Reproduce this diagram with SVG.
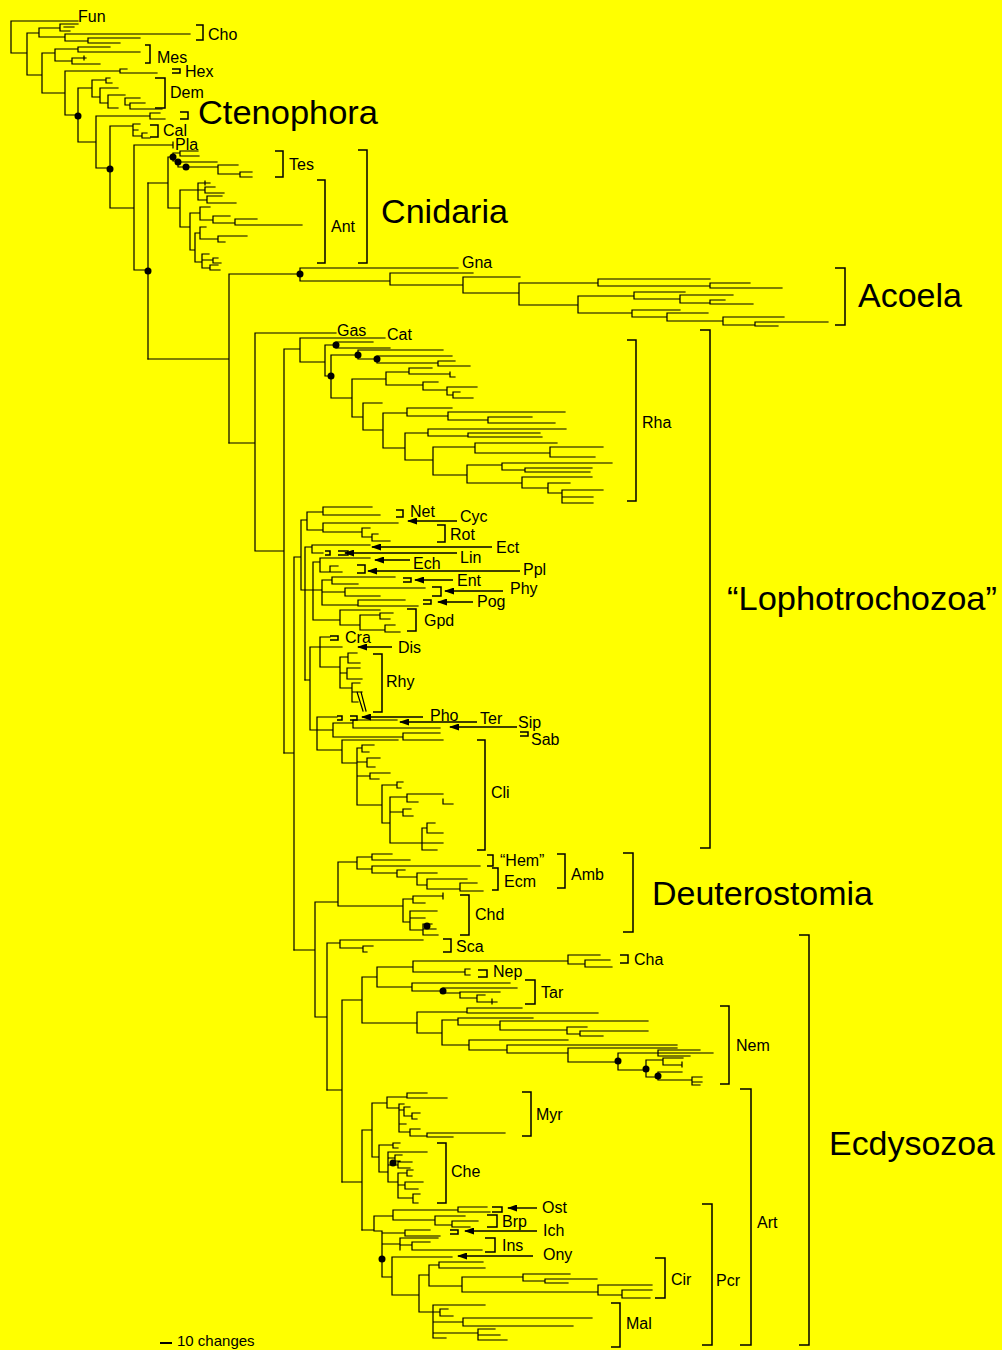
<svg xmlns="http://www.w3.org/2000/svg" width="1002" height="1350" viewBox="0 0 1002 1350">
<defs>
<style>
.t{fill:none;stroke:#000;stroke-width:1.2;stroke-linecap:square}
.b{fill:none;stroke:#000;stroke-width:1.5}
.a{fill:none;stroke:#000;stroke-width:1.4;marker-end:url(#ah)}
.d{fill:#000}
text{font-family:"Liberation Sans",Arial,Helvetica,sans-serif;fill:#000}
.s{font-size:16px}
.L{font-size:33px}
</style>
<marker id="ah" markerUnits="userSpaceOnUse" markerWidth="10" markerHeight="7" refX="9" refY="3.5" orient="auto"><path d="M0,0 L10,3.5 L0,7 Z" fill="#000"/></marker>
</defs>
<rect width="1002" height="1350" fill="#FFFF00"/>

<g id="connectors">
<path class="t" d="M11,21 H78 M11,21 V53 H27 M27,33 V75 M27,33 H39 M39,28 V37 M39,28 H60 M60,24 V31 M60,24 H78 M60,31 H70 M64,27 H74 M39,37 H65 M65,34 V41 M65,34 H190 M65,41 H88 M88,38 V43 M88,38 H140 M88,43 H120 M27,75 H42 M42,53 V93 M42,53 H55 M55,49 V61 M55,49 H78 M78,47 V52 M78,47 H110 M78,52 H140 M55,61 H72 M72,58 V64 M72,58 H86 M84,56 V60 M72,64 H100 M42,93 H65 M65,71 V115 M65,71 H120 M120,69 V73 M120,69 H127 M120,73 H157 M65,115 H78 M78,88 V142 M78,88 H92 M92,80 V97 M92,80 H106 M106,78 V83 M106,78 H110 M106,83 H112 M92,97 H100 M100,88 V103 M100,88 H118 M100,103 H108 M108,95 V108 M108,95 H125 M108,108 H118 M125,98 V105 M125,98 H140 M125,105 H130 M130,103 V109 M130,103 H145 M130,109 H162 M78,142 H96 M96,116 V168 M96,116 H150 M150,113 V119 M150,113 H160 M150,119 H165 M96,168 H110 M110,126 V208 M110,126 H133 M133,124 V136 M133,124 H140 M133,130 H138 M133,136 H142 M142,133 V138 M142,133 H147 M142,138 H150 M110,208 H134 M134,145 V270 M134,145 H173 M173,142 V148 M134,270 H148 M148,183 V359"/>
<path class="t" d="M148,183 H168 M168,157 V208 M168,157 H173 M173,153 V161 M173,153 H180 M180,151 V156 M180,151 H198 M180,156 H199 M173,161 H178 M178,162 V167 M178,162 H217 M178,167 H186 M186,167 H218 M218,165 V174 M218,165 H238 M218,174 H240 M240,172 V177 M240,172 H252 M240,177 H252 M168,208 H180 M180,190 V227 M180,190 H198 M198,183 V200 M198,183 H210 M205,181 V185 M198,190 H205 M205,187 V193 M205,187 H215 M205,193 H224 M198,200 H207 M207,196 V203 M207,196 H222 M207,203 H236 M180,227 H190 M190,213 V250 M190,213 H200 M200,207 V220 M200,207 H210 M200,220 H213 M213,216 V223 M213,216 H230 M213,223 H235 M235,219 V225 M235,219 H257 M235,225 H302 M190,250 H195 M195,233 V262 M195,233 H200 M200,227 V239 M200,227 H206 M200,239 H218 M218,236 V242 M218,236 H247 M218,242 H225 M195,262 H202 M202,254 V268 M202,254 H209 M202,260 H213 M213,258 V263 M213,258 H218 M213,263 H221 M202,268 H210 M210,265 V270 M210,265 H218 M210,270 H220"/>
<path class="t" d="M148,359 H229 M229,274 V443 M229,274 H300 M300,268 V281 M300,268 H458 M300,281 H390 M390,273 V285 M390,273 H473 M390,285 H463 M463,277 V293 M463,277 H520 M463,293 H519 M519,283 V305 M519,283 H598 M598,279 V286 M598,279 H710 M598,286 H710 M710,283 V288 M710,283 H750 M710,288 H782 M519,305 H578 M578,296 V313 M578,296 H634 M634,292 V299 M634,292 H685 M634,299 H680 M680,295 V303 M680,295 H733 M680,303 H710 M710,300 V304 M710,300 H725 M710,304 H753 M578,313 H632 M632,310 V317 M632,310 H680 M632,317 H667 M667,313 V321 M667,313 H708 M667,321 H723 M723,317 V325 M723,317 H784 M723,325 H755 M755,322 V326 M755,322 H828 M755,326 H778"/>
<path class="t" d="M229,443 H255 M255,333 V551 M255,333 H336 M255,551 H284 M284,349 V753 M284,349 H300 M300,338 V362 M300,338 H385 M300,362 H325 M325,345 V376 M325,345 H336 M336,342 V348 M336,342 H373 M336,348 H390 M325,376 H331 M331,355 V398 M331,355 H358 M358,350 V359 M358,350 H443 M358,359 H377 M377,356 V363 M377,356 H452 M377,363 H438 M438,361 V366 M438,361 H455 M438,366 H470 M331,398 H352 M352,379 V417 M352,379 H386 M386,372 V385 M386,372 H409 M409,368 V374 M409,368 H432 M409,374 H450 M450,372 V377 M450,377 H455 M386,385 H423 M423,382 V390 M423,382 H438 M423,390 H447 M447,387 V395 M447,387 H477 M447,395 H453 M453,392 V398 M453,392 H460 M453,398 H473 M352,417 H363 M363,403 V430 M363,403 H382 M363,430 H383 M383,413 V448 M383,413 H407 M407,408 V416 M407,408 H452 M407,416 H448 M448,412 V420 M448,412 H565 M448,420 H488 M488,417 V423 M488,417 H532 M488,423 H555 M383,448 H405 M405,433 V460 M405,433 H428 M428,429 V436 M428,429 H566 M428,436 H468 M468,433 V437 M468,433 H540 M468,437 H542 M405,460 H433 M433,447 V475 M433,447 H475 M475,443 V453 M475,443 H557 M475,453 H550 M550,447 V457 M550,447 H603 M550,457 H595 M433,475 H467 M467,465 V483 M467,465 H502 M502,463 V470 M502,463 H612 M502,470 H525 M525,468 V472 M525,468 H592 M525,472 H590 M467,483 H522 M522,477 V488 M522,477 H592 M522,488 H548 M548,483 V493 M548,483 H570 M548,493 H562 M562,490 V503 M562,490 H603 M562,497 H593 M562,503 H593"/>
<path class="t" d="M284,753 H294 M294,557 V950 M294,557 H301 M301,520 V590 M301,520 H307 M307,512 V530 M307,512 H323 M323,507 V515 M323,507 H372 M323,515 H380 M307,530 H323 M323,523 V532 M323,523 H398 M323,532 H362 M362,528 V537 M362,528 H370 M362,537 H372 M372,534 V541 M372,534 H378 M372,541 H390 M301,590 H305 M305,547 V680 M305,547 H312 M312,545 V553 M312,545 H370 M312,553 H323 M305,590 H313 M313,562 V620 M313,562 H320 M320,558 V572 M320,558 H370 M320,572 H330 M330,566 V572 M330,566 H338 M330,572 H342 M313,590 H322 M322,580 V605 M322,580 H332 M332,577 V584 M332,577 H395 M332,584 H358 M322,592 H345 M345,588 V596 M345,588 H425 M345,596 H380 M322,605 H358 M358,600 V606 M358,600 H405 M358,606 H418 M313,620 H340 M340,610 V625 M340,610 H380 M340,625 H360 M360,615 V630 M360,615 H380 M380,613 V619 M380,613 H393 M380,619 H390 M360,630 H385 M385,625 V632 M385,625 H395 M385,632 H400"/>
<path class="t" d="M305,680 H310 M310,647 V730 M310,647 H320 M320,637 V667 M320,637 H330 M320,647 H342 M320,667 H340 M340,657 V688 M340,657 H348 M348,653 V663 M348,653 H357 M348,663 H360 M340,673 H347 M347,668 V679 M347,668 H360 M347,679 H362 M340,688 H352 M352,683 V702 M352,683 H360 M352,692 H362 M352,702 H358 M357,692 L363,711 M361,692 L366,711 M310,730 H317 M317,717 V750 M317,717 H337 M317,730 H333 M333,723 V737 M333,723 H353 M353,720 V728 M353,720 H397 M353,728 H440 M333,737 H403 M403,733 V740 M403,733 H440 M403,740 H443 M317,750 H342 M342,740 V763 M342,740 H398 M342,763 H357 M357,748 V805 M357,748 H362 M362,745 V752 M362,745 H374 M362,752 H369 M357,762 H367 M367,758 V767 M367,758 H380 M367,767 H375 M357,776 H370 M370,773 V779 M370,773 H390 M370,779 H379 M357,805 H382 M382,785 V823 M382,785 H397 M397,782 V788 M397,782 H403 M397,788 H401 M382,823 H390 M390,797 V843 M390,797 H407 M407,794 V802 M407,794 H443 M407,802 H418 M443,799 V804 M443,804 H453 M390,812 H403 M403,809 V816 M403,809 H411 M403,816 H413 M390,843 H422 M422,828 V850 M422,828 H427 M427,823 V833 M427,823 H435 M427,833 H443 M422,843 H443 M422,850 H437"/>
<path class="t" d="M294,950 H315 M315,902 V1017 M315,902 H338 M338,862 V906 M338,862 H357 M357,857 V869 M357,857 H372 M372,854 V860 M372,854 H392 M372,860 H410 M357,869 H372 M372,866 V873 M372,866 H480 M372,873 H397 M397,870 V877 M397,870 H405 M397,877 H417 M417,873 V885 M417,873 H437 M417,885 H427 M427,879 V889 M427,879 H467 M427,889 H460 M460,883 V891 M460,883 H477 M460,891 H483 M338,906 H403 M403,899 V922 M403,899 H413 M413,896 V903 M413,896 H443 M443,893 V899 M413,903 H425 M403,922 H410 M410,911 V930 M410,911 H437 M410,918 H425 M410,930 H423 M423,924 V935 M423,924 H432 M423,929 H436 M423,935 H438 M315,1017 H327 M327,943 V1090 M327,943 H340 M340,940 V948 M340,940 H423 M340,948 H363 M363,946 V952 M363,946 H373 M363,952 H367"/>
<path class="t" d="M327,1090 H342 M342,1000 V1182 M342,1000 H362 M362,977 V1023 M362,977 H377 M377,967 V987 M377,967 H413 M413,961 V972 M413,961 H568 M568,955 V964 M568,955 H600 M568,964 H585 M585,960 V967 M585,960 H610 M585,967 H612 M413,972 H465 M465,969 V975 M465,969 H470 M465,975 H470 M377,987 H412 M412,983 V991 M412,983 H510 M412,991 H443 M443,988 V993 M443,988 H517 M443,993 H460 M460,992 V998 M460,992 H500 M460,998 H477 M477,995 V1002 M477,995 H485 M477,1002 H497 M492,999 V1004 M362,1023 H417 M417,1012 V1033 M417,1012 H467 M467,1008 V1013 M467,1008 H522 M467,1013 H598 M417,1033 H442 M442,1020 V1045 M442,1020 H458 M458,1018 V1025 M458,1018 H533 M458,1025 H500 M500,1021 V1030 M500,1021 H648 M500,1030 H567 M567,1027 V1034 M567,1027 H587 M567,1034 H580 M580,1031 V1036 M580,1031 H648 M580,1036 H603 M442,1045 H469 M469,1040 V1050 M469,1040 H568 M469,1050 H507 M507,1045 V1053 M507,1045 H677 M507,1053 H568 M568,1048 V1062 M568,1048 H677 M568,1062 H618 M618,1053 V1070 M618,1053 H658 M658,1050 V1056 M658,1050 H700 M658,1053 H713 M658,1056 H690 M618,1070 H646 M646,1060 V1077 M646,1060 H663 M663,1058 V1065 M663,1058 H683 M663,1065 H682 M682,1062 V1067 M646,1077 H658 M658,1072 V1080 M658,1072 H682 M658,1080 H692 M692,1077 V1085 M692,1077 H702 M692,1082 H702 M692,1085 H700"/>
<path class="t" d="M342,1182 H362 M362,1130 V1230 M362,1130 H372 M372,1103 V1157 M372,1103 H387 M387,1097 V1108 M387,1097 H407 M407,1093 V1098 M407,1093 H427 M407,1098 H447 M387,1108 H399 M399,1104 V1132 M399,1104 H404 M399,1110 H404 M404,1107 V1116 M404,1107 H410 M404,1116 H412 M412,1113 V1119 M412,1113 H420 M412,1119 H417 M399,1124 H406 M399,1132 H410 M410,1129 V1136 M410,1129 H420 M410,1136 H427 M427,1133 V1137 M427,1133 H505 M427,1137 H453 M372,1157 H379 M379,1145 V1172 M379,1145 H393 M393,1143 V1148 M393,1143 H400 M393,1148 H398 M379,1172 H388 M388,1152 V1182 M388,1152 H427 M388,1158 H395 M395,1155 V1161 M395,1155 H402 M395,1161 H400 M388,1165 H398 M398,1162 V1168 M398,1162 H412 M398,1168 H410 M388,1182 H398 M398,1173 V1198 M398,1173 H407 M407,1170 V1176 M407,1170 H413 M407,1176 H412 M398,1185 H405 M405,1182 V1189 M405,1182 H423 M405,1189 H418 M398,1198 H413 M413,1194 V1203 M413,1194 H420 M413,1203 H418"/>
<path class="t" d="M362,1230 H374 M374,1216 V1231 M374,1216 H393 M393,1210 V1220 M393,1210 H458 M458,1207 V1212 M458,1207 H487 M458,1212 H490 M393,1220 H435 M435,1216 V1225 M435,1216 H465 M435,1225 H452 M452,1221 V1227 M452,1221 H478 M452,1227 H470 M374,1231 H382 M382,1231 V1277 M382,1233 H405 M405,1230 V1236 M405,1230 H430 M405,1236 H440 M382,1244 H400 M400,1238 V1250 M400,1238 H438 M400,1245 H412 M412,1242 V1250 M412,1242 H430 M412,1250 H482 M382,1277 H392 M392,1257 V1295 M392,1257 H452 M392,1295 H419 M419,1275 V1312 M419,1275 H429 M429,1265 V1286 M429,1265 H439 M439,1262 V1268 M439,1262 H483 M439,1268 H485 M429,1286 H462 M462,1277 V1292 M462,1277 H523 M523,1274 V1281 M523,1274 H570 M523,1281 H545 M545,1279 V1283 M545,1279 H597 M545,1283 H568 M462,1292 H598 M598,1285 V1295 M598,1285 H652 M598,1295 H622 M622,1290 V1298 M622,1290 H652 M622,1298 H650 M419,1312 H433 M433,1305 V1338 M433,1305 H485 M433,1312 H440 M440,1309 V1316 M440,1309 H448 M440,1316 H453 M433,1322 H463 M463,1318 V1326 M463,1318 H592 M463,1326 H573 M433,1333 H478 M478,1329 V1340 M478,1329 H495 M478,1335 H500 M478,1340 H507 M433,1338 H446"/>
</g>

<g id="dots" class="d">
<circle cx="78" cy="116" r="3.5"/><circle cx="110" cy="169" r="3.5"/><circle cx="148" cy="271" r="3.5"/>
<circle cx="173" cy="157" r="3.5"/><circle cx="178" cy="162" r="3.5"/><circle cx="186" cy="167" r="3.5"/>
<circle cx="300" cy="274" r="3.5"/><circle cx="336" cy="345" r="3.5"/><circle cx="331" cy="376" r="3.5"/>
<circle cx="358" cy="355" r="3.5"/><circle cx="377" cy="359" r="3.5"/><circle cx="427" cy="926" r="3.5"/>
<circle cx="443" cy="991" r="3.5"/><circle cx="618" cy="1061" r="3.5"/><circle cx="646" cy="1069" r="3.5"/>
<circle cx="658" cy="1076" r="3.5"/><circle cx="393" cy="1163" r="3.5"/><circle cx="382" cy="1259" r="3.5"/>
</g>

<g id="brackets">
<path class="b" d="M196,25 H203 V40 H196 M145,45 H150 V63 H145 M172,69 H180 V73 H172 M155,78 H165 V108 H155 M180,112 H188 V119 H180 M150,125 H158 V137 H150 M275,151 H283 V177 H275 M317,180 H325 V263 H317 M358,150 H367 V263 H358 M835,268 H845 V325 H835 M627,340 H636 V501 H627 M700,330 H710 V848 H700"/>
<path class="b" d="M396,510 H403 V517 H396 M437,525 H445 V542 H437 M325,551 H330 V555 H325 M338,551 H348 V555 H338 M357,565 H365 V573 H357 M403,578 H411 V582 H403 M432,587 H441 V596 H432 M423,600 H431 V604 H423 M407,609 H416 V631 H407 M330,636 H338 V640 H330 M373,654 H382 V712 H373 M337,716 H342 V720 H337 M350,716 H357 V720 H350 M520,732 H528 V736 H520 M477,740 H485 V850 H477"/>
<path class="b" d="M487,855 H493 V866 H487 M492,868 H498 V890 H492 M557,854 H565 V888 H557 M623,853 H633 V932 H623 M460,895 H469 V935 H460 M443,939 H451 V952 H443 M620,955 H628 V963 H620 M478,970 H487 V977 H478 M525,980 H535 V1004 H525 M720,1006 H729 V1084 H720 M799,935 H809 V1345 H799 M740,1089 H751 V1345 H740 M702,1204 H712 V1345 H702 M655,1258 H665 V1298 H655 M611,1303 H620 V1347 H611 M522,1092 H531 V1136 H522 M437,1143 H446 V1203 H437 M492,1207 H502 V1212 H492 M487,1215 H497 V1227 H487 M450,1230 H458 V1234 H450 M485,1238 H495 V1252 H485"/>
</g>

<g id="arrows">
<path class="a" d="M457,521 H408"/><path class="a" d="M492,547 H372"/><path class="a" d="M457,553 H345"/>
<path class="a" d="M410,560 H375"/><path class="a" d="M520,571 H368"/><path class="a" d="M453,580 H415"/>
<path class="a" d="M503,591 H445"/><path class="a" d="M473,602 H438"/><path class="a" d="M392,647 H358"/>
<path class="a" d="M423,717 H362"/><path class="a" d="M477,722 H400"/><path class="a" d="M517,727 H450"/>
<path class="a" d="M537,1208 H508"/><path class="a" d="M537,1231 H465"/><path class="a" d="M533,1256 H458"/>
</g>

<g id="scale"><path d="M160,1343 H172" stroke="#000" stroke-width="2"/><text x="177" y="1346" font-size="15px">10 changes</text></g>

<g id="labels-major">
<g id="n-ctenophora"><text class="L" x="198" y="124" textLength="180" lengthAdjust="spacingAndGlyphs">Ctenophora</text></g>
<g id="n-cnidaria"><text class="L" x="381" y="223" textLength="127" lengthAdjust="spacingAndGlyphs">Cnidaria</text></g>
<g id="n-acoela"><text class="L" x="858" y="307" textLength="104" lengthAdjust="spacingAndGlyphs">Acoela</text></g>
<g id="n-lopho"><text class="L" x="727" y="610" textLength="270" lengthAdjust="spacingAndGlyphs">“Lophotrochozoa”</text></g>
<g id="n-deutero"><text class="L" x="652" y="905" textLength="221" lengthAdjust="spacingAndGlyphs">Deuterostomia</text></g>
<g id="n-ecdy"><text class="L" x="829" y="1155" textLength="166" lengthAdjust="spacingAndGlyphs">Ecdysozoa</text></g>
</g>

<g id="labels-taxa">
<g id="n-fun"><text class="s" x="78" y="22">Fun</text></g>
<g id="n-cho"><text class="s" x="208" y="40">Cho</text></g>
<g id="n-mes"><text class="s" x="157" y="63">Mes</text></g>
<g id="n-hex"><text class="s" x="185" y="77">Hex</text></g>
<g id="n-dem"><text class="s" x="170" y="98">Dem</text></g>
<g id="n-cal"><text class="s" x="163" y="136">Cal</text></g>
<g id="n-pla"><text class="s" x="175" y="150">Pla</text></g>
<g id="n-tes"><text class="s" x="289" y="170">Tes</text></g>
<g id="n-ant"><text class="s" x="331" y="232">Ant</text></g>
<g id="n-gna"><text class="s" x="462" y="268">Gna</text></g>
<g id="n-gas"><text class="s" x="337" y="336">Gas</text></g>
<g id="n-cat"><text class="s" x="387" y="340">Cat</text></g>
<g id="n-rha"><text class="s" x="642" y="428">Rha</text></g>
<g id="n-net"><text class="s" x="410" y="517">Net</text></g>
<g id="n-cyc"><text class="s" x="460" y="522">Cyc</text></g>
<g id="n-rot"><text class="s" x="450" y="540">Rot</text></g>
<g id="n-ect"><text class="s" x="496" y="553">Ect</text></g>
<g id="n-lin"><text class="s" x="460" y="563">Lin</text></g>
<g id="n-ech"><text class="s" x="413" y="569">Ech</text></g>
<g id="n-ppl"><text class="s" x="523" y="575">Ppl</text></g>
<g id="n-ent"><text class="s" x="457" y="586">Ent</text></g>
<g id="n-phy"><text class="s" x="510" y="594">Phy</text></g>
<g id="n-pog"><text class="s" x="477" y="607">Pog</text></g>
<g id="n-gpd"><text class="s" x="424" y="626">Gpd</text></g>
<g id="n-cra"><text class="s" x="345" y="643">Cra</text></g>
<g id="n-dis"><text class="s" x="398" y="653">Dis</text></g>
<g id="n-rhy"><text class="s" x="386" y="687">Rhy</text></g>
<g id="n-pho"><text class="s" x="430" y="721">Pho</text></g>
<g id="n-ter"><text class="s" x="480" y="724">Ter</text></g>
<g id="n-sip"><text class="s" x="518" y="728">Sip</text></g>
<g id="n-sab"><text class="s" x="531" y="745">Sab</text></g>
<g id="n-cli"><text class="s" x="491" y="798">Cli</text></g>
<g id="n-hem"><text class="s" x="500" y="866">“Hem”</text></g>
<g id="n-ecm"><text class="s" x="504" y="887">Ecm</text></g>
<g id="n-amb"><text class="s" x="571" y="880">Amb</text></g>
<g id="n-chd"><text class="s" x="475" y="920">Chd</text></g>
<g id="n-sca"><text class="s" x="456" y="952">Sca</text></g>
<g id="n-cha"><text class="s" x="634" y="965">Cha</text></g>
<g id="n-nep"><text class="s" x="493" y="977">Nep</text></g>
<g id="n-tar"><text class="s" x="541" y="998">Tar</text></g>
<g id="n-nem"><text class="s" x="736" y="1051">Nem</text></g>
<g id="n-myr"><text class="s" x="536" y="1120">Myr</text></g>
<g id="n-che"><text class="s" x="451" y="1177">Che</text></g>
<g id="n-ost"><text class="s" x="542" y="1213">Ost</text></g>
<g id="n-brp"><text class="s" x="502" y="1227">Brp</text></g>
<g id="n-ich"><text class="s" x="543" y="1236">Ich</text></g>
<g id="n-ins"><text class="s" x="502" y="1251">Ins</text></g>
<g id="n-ony"><text class="s" x="543" y="1260">Ony</text></g>
<g id="n-art"><text class="s" x="757" y="1228">Art</text></g>
<g id="n-cir"><text class="s" x="671" y="1285">Cir</text></g>
<g id="n-pcr"><text class="s" x="716" y="1286">Pcr</text></g>
<g id="n-mal"><text class="s" x="626" y="1329">Mal</text></g>
</g>
</svg>
